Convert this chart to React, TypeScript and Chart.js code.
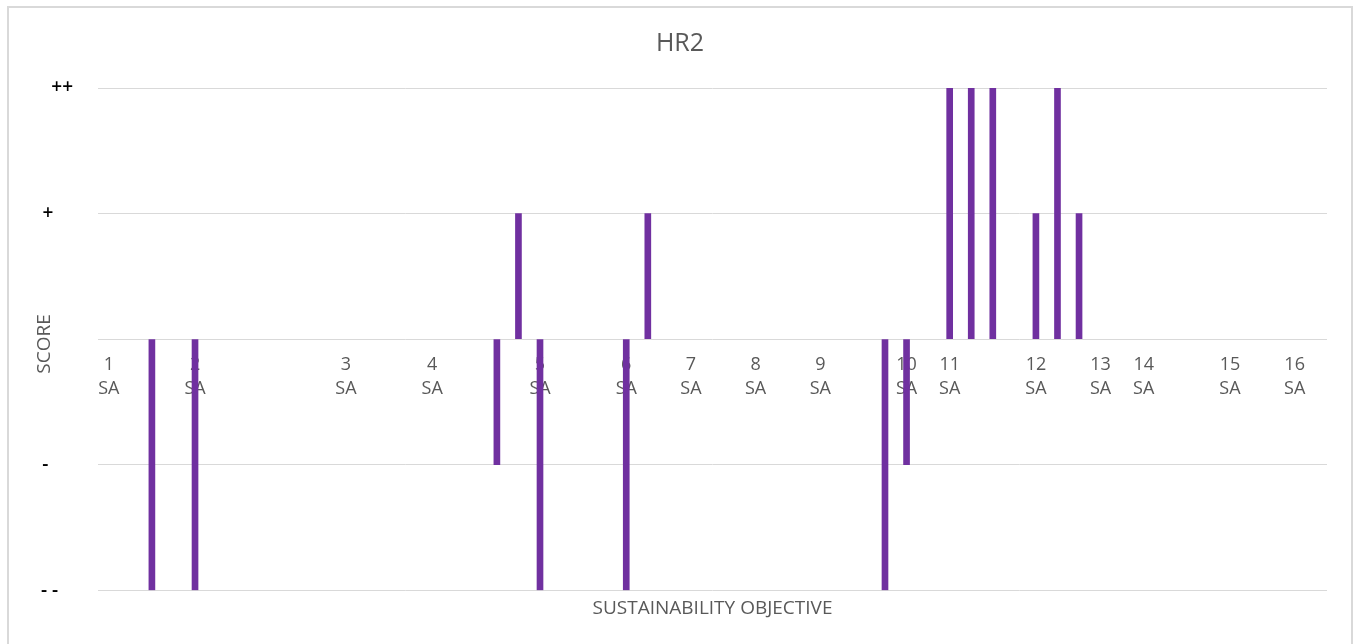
import { useEffect, useRef } from "react";
import { Chart, registerables } from "chart.js";

Chart.register(...registerables);

const chartTitle = "HR2";
const xAxisTitle = "SUSTAINABILITY OBJECTIVE";
const yAxisTitle = "SCORE";

// 57 category slots; labelled slots carry the objective number and "SA"
const categories: string[] = [
  "1 SA", "", "", "", "2 SA", "", "", "", "", "", "", "3 SA", "", "", "", "4 SA",
  "", "", "", "", "5 SA", "", "", "", "6 SA", "", "", "7 SA", "", "", "8 SA", "",
  "", "9 SA", "", "", "", "10 SA", "", "11 SA", "", "", "", "12 SA", "", "", "13 SA",
  "", "14 SA", "", "", "", "15 SA", "", "", "16 SA", "",
];

const scores: (number | null)[] = [
  null, null, -2, null, -2,
  null, null, null, null, null, null, null, null, null, null, null, null, null,
  -1, 1, -2,
  null, null, null,
  -2, 1,
  null, null, null, null, null, null, null, null, null, null,
  -2, -1,
  null,
  2, 2, 2,
  null,
  1, 2, 1,
  null, null, null, null, null, null, null, null, null, null, null,
];

const scoreValues = [-2, -1, 0, 1, 2];
const scoreTickLabels = ["- -", "-", "", "+", "++"];
const scoreTickPad = ["   ", "     ", "", "    ", ""];

export default function App() {
  const canvasRef = useRef<HTMLCanvasElement | null>(null);

  useEffect(() => {
    document.documentElement.style.overflow = "hidden";
    document.body.style.overflow = "hidden";
    const canvas = canvasRef.current;
    if (!canvas) return;
    Chart.defaults.font.family = "'Open Sans', sans-serif";
    const chart = new Chart(canvas, {
      type: "bar",
      data: {
        labels: categories,
        datasets: [
          {
            data: scores,
            backgroundColor: "#7030A0",
            borderWidth: 0,
            barThickness: 6,
            yAxisID: "y",
          },
        ],
      },
      options: {
        animation: false,
        responsive: false,
        events: [],
        layout: { padding: 0 },
        plugins: {
          legend: { display: false },
          tooltip: { enabled: false },
          title: {
            display: true,
            text: chartTitle,
            color: "#595959",
            font: { size: 25, weight: "normal" },
            padding: { top: 21, bottom: 29 },
          },
          subtitle: {
            display: true,
            fullSize: false,
            text: xAxisTitle,
            position: "bottom",
            color: "#595959",
            font: { size: 19, weight: "normal" },
            padding: { top: 7, bottom: 24 },
          },
        },
        scales: {
          x: {
            type: "category",
            position: { y: 0 },
            grid: { display: false, drawTicks: false },
            border: { display: false },
            ticks: {
              autoSkip: false,
              maxRotation: 0,
              minRotation: 0,
              padding: 14,
              color: "#595959",
              font: { size: 18, lineHeight: 24 / 18 },
              callback: (_v: any, i: number) => {
                const l = categories[i];
                return l ? l.split(" ") : "";
              },
            },
          },
          y: {
            position: "left",
            min: -2,
            max: 2,
            afterFit: (s: any) => {
              s.width = 89;
            },
            afterBuildTicks: (s: any) => {
              s.ticks = scoreValues.map((v) => ({ value: v }));
            },
            grid: { color: "#d9d9d9", lineWidth: 1, drawTicks: false },
            border: { display: false },
            ticks: {
              padding: 25,
              color: "#000000",
              font: { size: 19, weight: 600 },
              callback: (v: any) => {
                const i = scoreValues.indexOf(Number(v));
                return i >= 0 ? scoreTickLabels[i] + scoreTickPad[i] : "";
              },
            },
            title: {
              display: true,
              text: yAxisTitle + "  ",
              color: "#595959",
              font: { size: 19, weight: "normal" },
              padding: { top: 24, bottom: 0 },
            },
          },
          yRight: {
            type: "linear",
            position: "right",
            min: -2,
            max: 2,
            afterFit: (s: any) => {
              s.width = 24;
            },
            grid: { display: false, drawTicks: false },
            border: { display: false },
            ticks: { display: false },
          },
        },
      },
    } as any);
    return () => chart.destroy();
  }, []);

  return (
    <div style={{ position: "absolute", left: 0, top: 0, width: 1357, height: 644, overflow: "hidden", background: "#fff" }}>
      <div
        style={{
          position: "absolute",
          left: 7,
          top: 6,
          width: 1346,
          height: 660,
          border: "2px solid #d9d9d9",
          boxSizing: "border-box",
          background: "#fff",
        }}
      >
        <canvas ref={canvasRef} width={1342} height={636} style={{ display: "block", width: 1342, height: 636 }} />
      </div>
    </div>
  );
}
